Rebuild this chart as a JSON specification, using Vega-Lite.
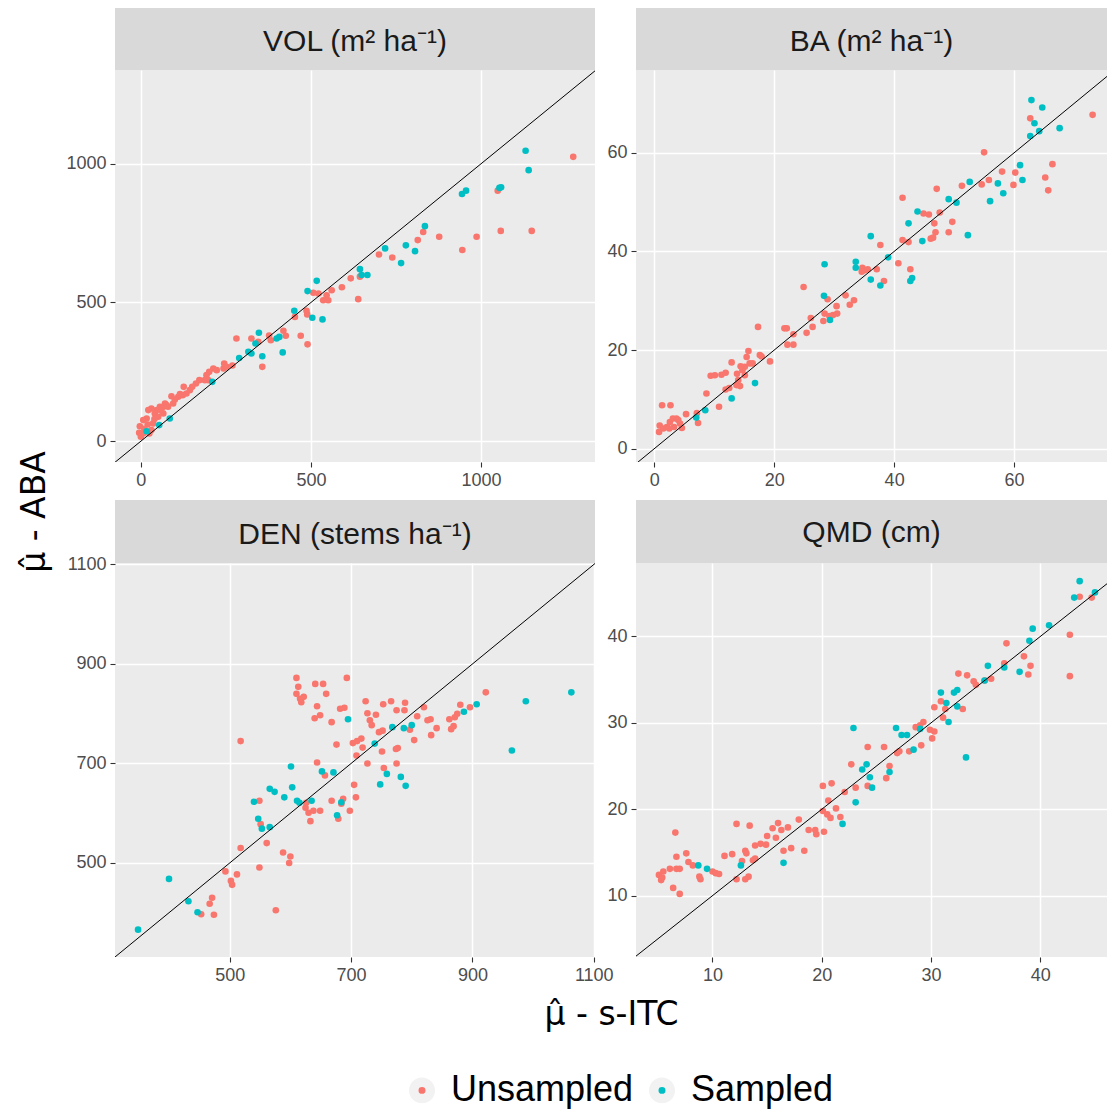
{
"$schema": "https://vega.github.io/schema/vega-lite/v6.json",
"padding": {"left": 18, "top": 8, "right": 0, "bottom": 0},
"background": "white",
"datasets": {
"pts": [
{"panel":"VOL","group":"Unsampled","x":617,"y":587},{"panel":"VOL","group":"Unsampled","x":591,"y":555},{"panel":"VOL","group":"Unsampled","x":561,"y":544},{"panel":"VOL","group":"Unsampled","x":546,"y":526},{"panel":"VOL","group":"Unsampled","x":536,"y":508},{"panel":"VOL","group":"Unsampled","x":551,"y":508},{"panel":"VOL","group":"Unsampled","x":522,"y":532},{"panel":"VOL","group":"Unsampled","x":507,"y":535},{"panel":"VOL","group":"Unsampled","x":639,"y":512},{"panel":"VOL","group":"Unsampled","x":489,"y":457},{"panel":"VOL","group":"Unsampled","x":487,"y":470},{"panel":"VOL","group":"Unsampled","x":453,"y":448},{"panel":"VOL","group":"Unsampled","x":470,"y":380},{"panel":"VOL","group":"Unsampled","x":490,"y":349},{"panel":"VOL","group":"Unsampled","x":419,"y":398},{"panel":"VOL","group":"Unsampled","x":426,"y":380},{"panel":"VOL","group":"Unsampled","x":382,"y":364},{"panel":"VOL","group":"Unsampled","x":377,"y":381},{"panel":"VOL","group":"Unsampled","x":357,"y":268},{"panel":"VOL","group":"Unsampled","x":281,"y":370},{"panel":"VOL","group":"Unsampled","x":325,"y":370},{"panel":"VOL","group":"Unsampled","x":345,"y":358},{"panel":"VOL","group":"Unsampled","x":269,"y":273},{"panel":"VOL","group":"Unsampled","x":245,"y":280},{"panel":"VOL","group":"Unsampled","x":243,"y":262},{"panel":"VOL","group":"Unsampled","x":252,"y":268},{"panel":"VOL","group":"Unsampled","x":213,"y":262},{"panel":"VOL","group":"Unsampled","x":201,"y":250},{"panel":"VOL","group":"Unsampled","x":193,"y":238},{"panel":"VOL","group":"Unsampled","x":198,"y":220},{"panel":"VOL","group":"Unsampled","x":188,"y":220},{"panel":"VOL","group":"Unsampled","x":172,"y":220},{"panel":"VOL","group":"Unsampled","x":162,"y":208},{"panel":"VOL","group":"Unsampled","x":151,"y":196},{"panel":"VOL","group":"Unsampled","x":144,"y":184},{"panel":"VOL","group":"Unsampled","x":126,"y":196},{"panel":"VOL","group":"Unsampled","x":123,"y":166},{"panel":"VOL","group":"Unsampled","x":134,"y":172},{"panel":"VOL","group":"Unsampled","x":90,"y":162},{"panel":"VOL","group":"Unsampled","x":71,"y":136},{"panel":"VOL","group":"Unsampled","x":66,"y":124},{"panel":"VOL","group":"Unsampled","x":56,"y":124},{"panel":"VOL","group":"Unsampled","x":46,"y":112},{"panel":"VOL","group":"Unsampled","x":41,"y":100},{"panel":"VOL","group":"Unsampled","x":31,"y":118},{"panel":"VOL","group":"Unsampled","x":22,"y":112},{"panel":"VOL","group":"Unsampled","x":17,"y":82},{"panel":"VOL","group":"Unsampled","x":7,"y":76},{"panel":"VOL","group":"Unsampled","x":-3,"y":54},{"panel":"VOL","group":"Unsampled","x":-5,"y":30},{"panel":"VOL","group":"Unsampled","x":0,"y":16},{"panel":"VOL","group":"Unsampled","x":7,"y":28},{"panel":"VOL","group":"Unsampled","x":25,"y":28},{"panel":"VOL","group":"Unsampled","x":31,"y":40},{"panel":"VOL","group":"Unsampled","x":36,"y":64},{"panel":"VOL","group":"Unsampled","x":51,"y":88},{"panel":"VOL","group":"Unsampled","x":66,"y":100},{"panel":"VOL","group":"Unsampled","x":80,"y":124},{"panel":"VOL","group":"Unsampled","x":95,"y":136},{"panel":"VOL","group":"Unsampled","x":110,"y":160},{"panel":"VOL","group":"Unsampled","x":223,"y":256},{"panel":"VOL","group":"Unsampled","x":60,"y":110},{"panel":"VOL","group":"Unsampled","x":75,"y":130},{"panel":"VOL","group":"Unsampled","x":100,"y":150},{"panel":"VOL","group":"Unsampled","x":115,"y":170},{"panel":"VOL","group":"Unsampled","x":20,"y":60},{"panel":"VOL","group":"Unsampled","x":10,"y":45},{"panel":"VOL","group":"Unsampled","x":40,"y":80},{"panel":"VOL","group":"Unsampled","x":1271,"y":1025},{"panel":"VOL","group":"Unsampled","x":1049,"y":903},{"panel":"VOL","group":"Unsampled","x":1058,"y":758},{"panel":"VOL","group":"Unsampled","x":1149,"y":758},{"panel":"VOL","group":"Unsampled","x":987,"y":737},{"panel":"VOL","group":"Unsampled","x":945,"y":689},{"panel":"VOL","group":"Unsampled","x":877,"y":737},{"panel":"VOL","group":"Unsampled","x":830,"y":754},{"panel":"VOL","group":"Unsampled","x":814,"y":725},{"panel":"VOL","group":"Unsampled","x":739,"y":662},{"panel":"VOL","group":"Unsampled","x":700,"y":673},{"panel":"VOL","group":"Unsampled","x":644,"y":593},
{"panel":"VOL","group":"Sampled","x":517,"y":578},{"panel":"VOL","group":"Sampled","x":490,"y":541},{"panel":"VOL","group":"Sampled","x":451,"y":470},{"panel":"VOL","group":"Sampled","x":504,"y":445},{"panel":"VOL","group":"Sampled","x":534,"y":439},{"panel":"VOL","group":"Sampled","x":347,"y":391},{"panel":"VOL","group":"Sampled","x":337,"y":352},{"panel":"VOL","group":"Sampled","x":357,"y":306},{"panel":"VOL","group":"Sampled","x":325,"y":316},{"panel":"VOL","group":"Sampled","x":316,"y":322},{"panel":"VOL","group":"Sampled","x":289,"y":300},{"panel":"VOL","group":"Sampled","x":399,"y":370},{"panel":"VOL","group":"Sampled","x":407,"y":376},{"panel":"VOL","group":"Sampled","x":417,"y":320},{"panel":"VOL","group":"Sampled","x":210,"y":214},{"panel":"VOL","group":"Sampled","x":85,"y":82},{"panel":"VOL","group":"Sampled","x":54,"y":58},{"panel":"VOL","group":"Sampled","x":17,"y":36},{"panel":"VOL","group":"Sampled","x":1131,"y":1047},{"panel":"VOL","group":"Sampled","x":1140,"y":977},{"panel":"VOL","group":"Sampled","x":1054,"y":913},{"panel":"VOL","group":"Sampled","x":1059,"y":915},{"panel":"VOL","group":"Sampled","x":944,"y":891},{"panel":"VOL","group":"Sampled","x":956,"y":903},{"panel":"VOL","group":"Sampled","x":835,"y":775},{"panel":"VOL","group":"Sampled","x":779,"y":706},{"panel":"VOL","group":"Sampled","x":806,"y":685},{"panel":"VOL","group":"Sampled","x":765,"y":642},{"panel":"VOL","group":"Sampled","x":718,"y":695},{"panel":"VOL","group":"Sampled","x":644,"y":620},{"panel":"VOL","group":"Sampled","x":649,"y":599},{"panel":"VOL","group":"Sampled","x":666,"y":599},
{"panel":"BA","group":"Unsampled","x":0.8,"y":3.4},{"panel":"BA","group":"Unsampled","x":0.9,"y":4.7},{"panel":"BA","group":"Unsampled","x":1.3,"y":8.8},{"panel":"BA","group":"Unsampled","x":2.7,"y":8.8},{"panel":"BA","group":"Unsampled","x":1.5,"y":4.1},{"panel":"BA","group":"Unsampled","x":2.1,"y":4.4},{"panel":"BA","group":"Unsampled","x":2.6,"y":5.4},{"panel":"BA","group":"Unsampled","x":3.1,"y":6.1},{"panel":"BA","group":"Unsampled","x":3.7,"y":6.1},{"panel":"BA","group":"Unsampled","x":4.3,"y":5.1},{"panel":"BA","group":"Unsampled","x":4.6,"y":4.2},{"panel":"BA","group":"Unsampled","x":4.0,"y":5.8},{"panel":"BA","group":"Unsampled","x":3.3,"y":4.4},{"panel":"BA","group":"Unsampled","x":2.5,"y":4.1},{"panel":"BA","group":"Unsampled","x":5.3,"y":7.0},{"panel":"BA","group":"Unsampled","x":7.3,"y":5.2},{"panel":"BA","group":"Unsampled","x":7.1,"y":7.2},{"panel":"BA","group":"Unsampled","x":8.7,"y":11.2},{"panel":"BA","group":"Unsampled","x":10.8,"y":8.5},{"panel":"BA","group":"Unsampled","x":11.9,"y":12.0},{"panel":"BA","group":"Unsampled","x":13.7,"y":12.9},{"panel":"BA","group":"Unsampled","x":14.3,"y":12.7},{"panel":"BA","group":"Unsampled","x":14.0,"y":13.9},{"panel":"BA","group":"Unsampled","x":13.8,"y":15.2},{"panel":"BA","group":"Unsampled","x":15.1,"y":14.9},{"panel":"BA","group":"Unsampled","x":15.9,"y":17.3},{"panel":"BA","group":"Unsampled","x":16.4,"y":17.3},{"panel":"BA","group":"Unsampled","x":15.4,"y":18.6},{"panel":"BA","group":"Unsampled","x":15.7,"y":19.8},{"panel":"BA","group":"Unsampled","x":17.3,"y":24.7},{"panel":"BA","group":"Unsampled","x":17.6,"y":19.0},{"panel":"BA","group":"Unsampled","x":17.9,"y":18.7},{"panel":"BA","group":"Unsampled","x":19.3,"y":17.7},{"panel":"BA","group":"Unsampled","x":12.9,"y":17.5},{"panel":"BA","group":"Unsampled","x":9.4,"y":14.8},{"panel":"BA","group":"Unsampled","x":10.1,"y":14.9},{"panel":"BA","group":"Unsampled","x":11.2,"y":15.0},{"panel":"BA","group":"Unsampled","x":11.9,"y":15.4},{"panel":"BA","group":"Unsampled","x":12.5,"y":12.3},{"panel":"BA","group":"Unsampled","x":14.7,"y":15.9},{"panel":"BA","group":"Unsampled","x":15.1,"y":16.6},{"panel":"BA","group":"Unsampled","x":14.4,"y":16.7},{"panel":"BA","group":"Unsampled","x":21.7,"y":24.4},{"panel":"BA","group":"Unsampled","x":22.1,"y":24.4},{"panel":"BA","group":"Unsampled","x":23.2,"y":23.2},{"panel":"BA","group":"Unsampled","x":22.2,"y":21.1},{"panel":"BA","group":"Unsampled","x":23.2,"y":21.1},{"panel":"BA","group":"Unsampled","x":25.4,"y":23.5},{"panel":"BA","group":"Unsampled","x":26.4,"y":24.7},{"panel":"BA","group":"Unsampled","x":26.1,"y":26.5},{"panel":"BA","group":"Unsampled","x":24.9,"y":32.8},{"panel":"BA","group":"Unsampled","x":28.2,"y":25.9},{"panel":"BA","group":"Unsampled","x":28.4,"y":27.4},{"panel":"BA","group":"Unsampled","x":29.2,"y":26.9},{"panel":"BA","group":"Unsampled","x":29.8,"y":27.1},{"panel":"BA","group":"Unsampled","x":30.5,"y":27.4},{"panel":"BA","group":"Unsampled","x":30.4,"y":28.9},{"panel":"BA","group":"Unsampled","x":28.9,"y":30.3},{"panel":"BA","group":"Unsampled","x":31.9,"y":31.1},{"panel":"BA","group":"Unsampled","x":32.6,"y":29.2},{"panel":"BA","group":"Unsampled","x":33.3,"y":30.1},{"panel":"BA","group":"Unsampled","x":34.7,"y":36.7},{"panel":"BA","group":"Unsampled","x":35.1,"y":36.2},{"panel":"BA","group":"Unsampled","x":35.6,"y":36.4},{"panel":"BA","group":"Unsampled","x":34.6,"y":35.9},{"panel":"BA","group":"Unsampled","x":37.1,"y":36.4},{"panel":"BA","group":"Unsampled","x":37.7,"y":41.3},{"panel":"BA","group":"Unsampled","x":73.1,"y":67.7},{"panel":"BA","group":"Unsampled","x":62.7,"y":67.0},{"panel":"BA","group":"Unsampled","x":55.0,"y":60.1},{"panel":"BA","group":"Unsampled","x":66.4,"y":57.7},{"panel":"BA","group":"Unsampled","x":65.2,"y":55.0},{"panel":"BA","group":"Unsampled","x":65.7,"y":52.4},{"panel":"BA","group":"Unsampled","x":60.2,"y":56.0},{"panel":"BA","group":"Unsampled","x":59.9,"y":53.5},{"panel":"BA","group":"Unsampled","x":58.0,"y":56.2},{"panel":"BA","group":"Unsampled","x":55.8,"y":54.5},{"panel":"BA","group":"Unsampled","x":54.6,"y":53.6},{"panel":"BA","group":"Unsampled","x":51.3,"y":53.3},{"panel":"BA","group":"Unsampled","x":47.1,"y":52.7},{"panel":"BA","group":"Unsampled","x":41.4,"y":50.9},{"panel":"BA","group":"Unsampled","x":44.9,"y":47.7},{"panel":"BA","group":"Unsampled","x":45.8,"y":47.5},{"panel":"BA","group":"Unsampled","x":47.6,"y":47.9},{"panel":"BA","group":"Unsampled","x":46.7,"y":45.7},{"panel":"BA","group":"Unsampled","x":49.7,"y":46.0},{"panel":"BA","group":"Unsampled","x":49.1,"y":43.9},{"panel":"BA","group":"Unsampled","x":46.9,"y":43.9},{"panel":"BA","group":"Unsampled","x":46.5,"y":42.8},{"panel":"BA","group":"Unsampled","x":46.1,"y":42.6},{"panel":"BA","group":"Unsampled","x":41.4,"y":42.3},{"panel":"BA","group":"Unsampled","x":42.4,"y":41.9},{"panel":"BA","group":"Unsampled","x":40.7,"y":37.6},{"panel":"BA","group":"Unsampled","x":42.7,"y":36.4},{"panel":"BA","group":"Unsampled","x":38.3,"y":34.0},
{"panel":"BA","group":"Sampled","x":7.0,"y":6.3},{"panel":"BA","group":"Sampled","x":8.5,"y":7.8},{"panel":"BA","group":"Sampled","x":12.9,"y":10.2},{"panel":"BA","group":"Sampled","x":16.8,"y":13.3},{"panel":"BA","group":"Sampled","x":28.4,"y":37.4},{"panel":"BA","group":"Sampled","x":28.3,"y":31.0},{"panel":"BA","group":"Sampled","x":29.3,"y":26.1},{"panel":"BA","group":"Sampled","x":33.6,"y":37.9},{"panel":"BA","group":"Sampled","x":33.6,"y":36.7},{"panel":"BA","group":"Sampled","x":36.1,"y":43.1},{"panel":"BA","group":"Sampled","x":36.1,"y":34.3},{"panel":"BA","group":"Sampled","x":37.7,"y":33.1},{"panel":"BA","group":"Sampled","x":62.9,"y":70.7},{"panel":"BA","group":"Sampled","x":64.7,"y":69.2},{"panel":"BA","group":"Sampled","x":63.4,"y":66.0},{"panel":"BA","group":"Sampled","x":62.7,"y":63.4},{"panel":"BA","group":"Sampled","x":64.2,"y":64.4},{"panel":"BA","group":"Sampled","x":67.6,"y":65.0},{"panel":"BA","group":"Sampled","x":61.0,"y":57.5},{"panel":"BA","group":"Sampled","x":61.4,"y":54.5},{"panel":"BA","group":"Sampled","x":57.3,"y":53.8},{"panel":"BA","group":"Sampled","x":58.2,"y":51.8},{"panel":"BA","group":"Sampled","x":56.0,"y":50.2},{"panel":"BA","group":"Sampled","x":52.6,"y":54.1},{"panel":"BA","group":"Sampled","x":49.1,"y":50.6},{"panel":"BA","group":"Sampled","x":50.4,"y":49.9},{"panel":"BA","group":"Sampled","x":52.3,"y":43.3},{"panel":"BA","group":"Sampled","x":43.9,"y":48.1},{"panel":"BA","group":"Sampled","x":42.4,"y":45.7},{"panel":"BA","group":"Sampled","x":44.7,"y":42.1},{"panel":"BA","group":"Sampled","x":39.0,"y":38.8},{"panel":"BA","group":"Sampled","x":42.7,"y":34.0},{"panel":"BA","group":"Sampled","x":43.0,"y":34.6},
{"panel":"DEN","group":"Unsampled","x":518,"y":745},{"panel":"DEN","group":"Unsampled","x":549,"y":625},{"panel":"DEN","group":"Unsampled","x":551,"y":578},{"panel":"DEN","group":"Unsampled","x":561,"y":540},{"panel":"DEN","group":"Unsampled","x":518,"y":530},{"panel":"DEN","group":"Unsampled","x":493,"y":483},{"panel":"DEN","group":"Unsampled","x":502,"y":464},{"panel":"DEN","group":"Unsampled","x":504,"y":456},{"panel":"DEN","group":"Unsampled","x":512,"y":477},{"panel":"DEN","group":"Unsampled","x":471,"y":430},{"panel":"DEN","group":"Unsampled","x":467,"y":418},{"panel":"DEN","group":"Unsampled","x":453,"y":397},{"panel":"DEN","group":"Unsampled","x":474,"y":396},{"panel":"DEN","group":"Unsampled","x":549,"y":491},{"panel":"DEN","group":"Unsampled","x":576,"y":405},{"panel":"DEN","group":"Unsampled","x":588,"y":521},{"panel":"DEN","group":"Unsampled","x":600,"y":513},{"panel":"DEN","group":"Unsampled","x":598,"y":500},{"panel":"DEN","group":"Unsampled","x":610,"y":872},{"panel":"DEN","group":"Unsampled","x":613,"y":854},{"panel":"DEN","group":"Unsampled","x":610,"y":840},{"panel":"DEN","group":"Unsampled","x":616,"y":830},{"panel":"DEN","group":"Unsampled","x":622,"y":834},{"panel":"DEN","group":"Unsampled","x":618,"y":823},{"panel":"DEN","group":"Unsampled","x":641,"y":860},{"panel":"DEN","group":"Unsampled","x":654,"y":860},{"panel":"DEN","group":"Unsampled","x":659,"y":840},{"panel":"DEN","group":"Unsampled","x":644,"y":815},{"panel":"DEN","group":"Unsampled","x":640,"y":791},{"panel":"DEN","group":"Unsampled","x":649,"y":797},{"panel":"DEN","group":"Unsampled","x":668,"y":783},{"panel":"DEN","group":"Unsampled","x":682,"y":810},{"panel":"DEN","group":"Unsampled","x":689,"y":812},{"panel":"DEN","group":"Unsampled","x":693,"y":872},{"panel":"DEN","group":"Unsampled","x":676,"y":738},{"panel":"DEN","group":"Unsampled","x":644,"y":702},{"panel":"DEN","group":"Unsampled","x":657,"y":676},{"panel":"DEN","group":"Unsampled","x":668,"y":625},{"panel":"DEN","group":"Unsampled","x":625,"y":611},{"panel":"DEN","group":"Unsampled","x":630,"y":601},{"panel":"DEN","group":"Unsampled","x":633,"y":584},{"panel":"DEN","group":"Unsampled","x":638,"y":605},{"panel":"DEN","group":"Unsampled","x":649,"y":605},{"panel":"DEN","group":"Unsampled","x":626,"y":621},{"panel":"DEN","group":"Unsampled","x":679,"y":589},{"panel":"DEN","group":"Unsampled","x":684,"y":619},{"panel":"DEN","group":"Unsampled","x":687,"y":629},{"panel":"DEN","group":"Unsampled","x":698,"y":605},{"panel":"DEN","group":"Unsampled","x":705,"y":657},{"panel":"DEN","group":"Unsampled","x":708,"y":632},{"panel":"DEN","group":"Unsampled","x":703,"y":741},{"panel":"DEN","group":"Unsampled","x":710,"y":745},{"panel":"DEN","group":"Unsampled","x":709,"y":716},{"panel":"DEN","group":"Unsampled","x":922,"y":843},{"panel":"DEN","group":"Unsampled","x":896,"y":813},{"panel":"DEN","group":"Unsampled","x":880,"y":818},{"panel":"DEN","group":"Unsampled","x":875,"y":800},{"panel":"DEN","group":"Unsampled","x":871,"y":793},{"panel":"DEN","group":"Unsampled","x":862,"y":789},{"panel":"DEN","group":"Unsampled","x":869,"y":775},{"panel":"DEN","group":"Unsampled","x":865,"y":769},{"panel":"DEN","group":"Unsampled","x":841,"y":771},{"panel":"DEN","group":"Unsampled","x":832,"y":757},{"panel":"DEN","group":"Unsampled","x":831,"y":789},{"panel":"DEN","group":"Unsampled","x":826,"y":787},{"panel":"DEN","group":"Unsampled","x":820,"y":813},{"panel":"DEN","group":"Unsampled","x":809,"y":795},{"panel":"DEN","group":"Unsampled","x":797,"y":768},{"panel":"DEN","group":"Unsampled","x":804,"y":747},{"panel":"DEN","group":"Unsampled","x":789,"y":822},{"panel":"DEN","group":"Unsampled","x":788,"y":807},{"panel":"DEN","group":"Unsampled","x":775,"y":807},{"panel":"DEN","group":"Unsampled","x":777,"y":731},{"panel":"DEN","group":"Unsampled","x":774,"y":729},{"panel":"DEN","group":"Unsampled","x":775,"y":700},{"panel":"DEN","group":"Unsampled","x":766,"y":825},{"panel":"DEN","group":"Unsampled","x":753,"y":819},{"panel":"DEN","group":"Unsampled","x":724,"y":825},{"panel":"DEN","group":"Unsampled","x":727,"y":801},{"panel":"DEN","group":"Unsampled","x":731,"y":787},{"panel":"DEN","group":"Unsampled","x":734,"y":777},{"panel":"DEN","group":"Unsampled","x":741,"y":798},{"panel":"DEN","group":"Unsampled","x":746,"y":763},{"panel":"DEN","group":"Unsampled","x":752,"y":766},{"panel":"DEN","group":"Unsampled","x":751,"y":724},{"panel":"DEN","group":"Unsampled","x":754,"y":691},{"panel":"DEN","group":"Unsampled","x":727,"y":700},{"panel":"DEN","group":"Unsampled","x":719,"y":732},{"panel":"DEN","group":"Unsampled","x":717,"y":750},
{"panel":"DEN","group":"Sampled","x":349,"y":366},{"panel":"DEN","group":"Sampled","x":400,"y":468},{"panel":"DEN","group":"Sampled","x":432,"y":423},{"panel":"DEN","group":"Sampled","x":447,"y":401},{"panel":"DEN","group":"Sampled","x":540,"y":623},{"panel":"DEN","group":"Sampled","x":547,"y":589},{"panel":"DEN","group":"Sampled","x":553,"y":569},{"panel":"DEN","group":"Sampled","x":566,"y":572},{"panel":"DEN","group":"Sampled","x":566,"y":649},{"panel":"DEN","group":"Sampled","x":574,"y":643},{"panel":"DEN","group":"Sampled","x":590,"y":632},{"panel":"DEN","group":"Sampled","x":603,"y":652},{"panel":"DEN","group":"Sampled","x":601,"y":694},{"panel":"DEN","group":"Sampled","x":611,"y":625},{"panel":"DEN","group":"Sampled","x":615,"y":621},{"panel":"DEN","group":"Sampled","x":635,"y":625},{"panel":"DEN","group":"Sampled","x":652,"y":684},{"panel":"DEN","group":"Sampled","x":671,"y":682},{"panel":"DEN","group":"Sampled","x":684,"y":622},{"panel":"DEN","group":"Sampled","x":677,"y":596},{"panel":"DEN","group":"Sampled","x":695,"y":789},{"panel":"DEN","group":"Sampled","x":1063,"y":843},{"panel":"DEN","group":"Sampled","x":988,"y":825},{"panel":"DEN","group":"Sampled","x":965,"y":726},{"panel":"DEN","group":"Sampled","x":907,"y":819},{"panel":"DEN","group":"Sampled","x":886,"y":804},{"panel":"DEN","group":"Sampled","x":800,"y":777},{"panel":"DEN","group":"Sampled","x":787,"y":771},{"panel":"DEN","group":"Sampled","x":768,"y":773},{"panel":"DEN","group":"Sampled","x":739,"y":740},{"panel":"DEN","group":"Sampled","x":759,"y":679},{"panel":"DEN","group":"Sampled","x":748,"y":658},{"panel":"DEN","group":"Sampled","x":782,"y":673},{"panel":"DEN","group":"Sampled","x":790,"y":655},
{"panel":"QMD","group":"Unsampled","x":5.1,"y":12.4},{"panel":"QMD","group":"Unsampled","x":5.4,"y":12.1},{"panel":"QMD","group":"Unsampled","x":5.5,"y":12.8},{"panel":"QMD","group":"Unsampled","x":5.3,"y":11.8},{"panel":"QMD","group":"Unsampled","x":6.1,"y":13.1},{"panel":"QMD","group":"Unsampled","x":6.7,"y":13.1},{"panel":"QMD","group":"Unsampled","x":7.0,"y":13.1},{"panel":"QMD","group":"Unsampled","x":6.6,"y":17.3},{"panel":"QMD","group":"Unsampled","x":6.7,"y":14.5},{"panel":"QMD","group":"Unsampled","x":7.6,"y":14.9},{"panel":"QMD","group":"Unsampled","x":7.8,"y":13.9},{"panel":"QMD","group":"Unsampled","x":8.2,"y":13.5},{"panel":"QMD","group":"Unsampled","x":6.4,"y":10.9},{"panel":"QMD","group":"Unsampled","x":7.0,"y":10.2},{"panel":"QMD","group":"Unsampled","x":8.8,"y":12.2},{"panel":"QMD","group":"Unsampled","x":8.9,"y":11.9},{"panel":"QMD","group":"Unsampled","x":10.0,"y":12.8},{"panel":"QMD","group":"Unsampled","x":10.3,"y":12.6},{"panel":"QMD","group":"Unsampled","x":10.6,"y":12.5},{"panel":"QMD","group":"Unsampled","x":11.1,"y":14.6},{"panel":"QMD","group":"Unsampled","x":11.8,"y":14.8},{"panel":"QMD","group":"Unsampled","x":12.2,"y":18.3},{"panel":"QMD","group":"Unsampled","x":12.2,"y":11.9},{"panel":"QMD","group":"Unsampled","x":12.7,"y":14.0},{"panel":"QMD","group":"Unsampled","x":13.0,"y":15.2},{"panel":"QMD","group":"Unsampled","x":13.1,"y":14.9},{"panel":"QMD","group":"Unsampled","x":13.0,"y":11.9},{"panel":"QMD","group":"Unsampled","x":13.3,"y":12.2},{"panel":"QMD","group":"Unsampled","x":13.4,"y":18.1},{"panel":"QMD","group":"Unsampled","x":13.7,"y":14.1},{"panel":"QMD","group":"Unsampled","x":13.9,"y":14.3},{"panel":"QMD","group":"Unsampled","x":13.9,"y":15.8},{"panel":"QMD","group":"Unsampled","x":14.4,"y":16.0},{"panel":"QMD","group":"Unsampled","x":14.9,"y":15.9},{"panel":"QMD","group":"Unsampled","x":15.0,"y":16.9},{"panel":"QMD","group":"Unsampled","x":15.5,"y":17.8},{"panel":"QMD","group":"Unsampled","x":15.8,"y":16.7},{"panel":"QMD","group":"Unsampled","x":16.0,"y":18.4},{"panel":"QMD","group":"Unsampled","x":16.3,"y":17.6},{"panel":"QMD","group":"Unsampled","x":16.9,"y":17.9},{"panel":"QMD","group":"Unsampled","x":16.5,"y":15.2},{"panel":"QMD","group":"Unsampled","x":17.2,"y":15.5},{"panel":"QMD","group":"Unsampled","x":17.9,"y":18.8},{"panel":"QMD","group":"Unsampled","x":18.4,"y":15.2},{"panel":"QMD","group":"Unsampled","x":18.8,"y":17.6},{"panel":"QMD","group":"Unsampled","x":19.4,"y":17.6},{"panel":"QMD","group":"Unsampled","x":19.5,"y":17.1},{"panel":"QMD","group":"Unsampled","x":20.2,"y":17.4},{"panel":"QMD","group":"Unsampled","x":20.1,"y":19.8},{"panel":"QMD","group":"Unsampled","x":20.5,"y":19.4},{"panel":"QMD","group":"Unsampled","x":20.8,"y":19.0},{"panel":"QMD","group":"Unsampled","x":20.6,"y":21.0},{"panel":"QMD","group":"Unsampled","x":20.1,"y":22.7},{"panel":"QMD","group":"Unsampled","x":20.9,"y":23.0},{"panel":"QMD","group":"Unsampled","x":21.3,"y":20.1},{"panel":"QMD","group":"Unsampled","x":21.7,"y":19.1},{"panel":"QMD","group":"Unsampled","x":22.1,"y":22.0},{"panel":"QMD","group":"Unsampled","x":22.7,"y":25.2},{"panel":"QMD","group":"Unsampled","x":23.1,"y":22.5},{"panel":"QMD","group":"Unsampled","x":24.2,"y":27.2},{"panel":"QMD","group":"Unsampled","x":24.2,"y":22.7},{"panel":"QMD","group":"Unsampled","x":43.6,"y":44.6},{"panel":"QMD","group":"Unsampled","x":44.7,"y":44.5},{"panel":"QMD","group":"Unsampled","x":42.7,"y":40.2},{"panel":"QMD","group":"Unsampled","x":42.7,"y":35.4},{"panel":"QMD","group":"Unsampled","x":36.9,"y":39.2},{"panel":"QMD","group":"Unsampled","x":38.5,"y":37.7},{"panel":"QMD","group":"Unsampled","x":39.1,"y":36.6},{"panel":"QMD","group":"Unsampled","x":38.9,"y":35.6},{"panel":"QMD","group":"Unsampled","x":36.7,"y":36.9},{"panel":"QMD","group":"Unsampled","x":35.5,"y":35.1},{"panel":"QMD","group":"Unsampled","x":34.9,"y":34.9},{"panel":"QMD","group":"Unsampled","x":34.1,"y":34.4},{"panel":"QMD","group":"Unsampled","x":33.9,"y":34.8},{"panel":"QMD","group":"Unsampled","x":33.3,"y":35.5},{"panel":"QMD","group":"Unsampled","x":32.5,"y":35.7},{"panel":"QMD","group":"Unsampled","x":30.9,"y":32.5},{"panel":"QMD","group":"Unsampled","x":30.3,"y":31.8},{"panel":"QMD","group":"Unsampled","x":31.3,"y":31.6},{"panel":"QMD","group":"Unsampled","x":31.1,"y":30.6},{"panel":"QMD","group":"Unsampled","x":32.9,"y":31.6},{"panel":"QMD","group":"Unsampled","x":28.6,"y":29.5},{"panel":"QMD","group":"Unsampled","x":29.0,"y":29.7},{"panel":"QMD","group":"Unsampled","x":29.3,"y":30.1},{"panel":"QMD","group":"Unsampled","x":29.9,"y":29.2},{"panel":"QMD","group":"Unsampled","x":30.3,"y":29.0},{"panel":"QMD","group":"Unsampled","x":30.1,"y":28.2},{"panel":"QMD","group":"Unsampled","x":29.1,"y":27.4},{"panel":"QMD","group":"Unsampled","x":28.0,"y":26.7},{"panel":"QMD","group":"Unsampled","x":26.9,"y":26.5},{"panel":"QMD","group":"Unsampled","x":27.1,"y":26.7},{"panel":"QMD","group":"Unsampled","x":25.7,"y":27.2},{"panel":"QMD","group":"Unsampled","x":26.2,"y":25.0},{"panel":"QMD","group":"Unsampled","x":25.9,"y":23.6},
{"panel":"QMD","group":"Sampled","x":8.7,"y":13.5},{"panel":"QMD","group":"Sampled","x":9.5,"y":13.1},{"panel":"QMD","group":"Sampled","x":12.6,"y":13.5},{"panel":"QMD","group":"Sampled","x":16.5,"y":13.8},{"panel":"QMD","group":"Sampled","x":21.9,"y":18.3},{"panel":"QMD","group":"Sampled","x":23.1,"y":20.8},{"panel":"QMD","group":"Sampled","x":22.9,"y":29.4},{"panel":"QMD","group":"Sampled","x":23.7,"y":24.6},{"panel":"QMD","group":"Sampled","x":24.1,"y":25.2},{"panel":"QMD","group":"Sampled","x":24.4,"y":23.7},{"panel":"QMD","group":"Sampled","x":24.6,"y":22.5},{"panel":"QMD","group":"Sampled","x":43.6,"y":46.4},{"panel":"QMD","group":"Sampled","x":43.1,"y":44.5},{"panel":"QMD","group":"Sampled","x":45.0,"y":45.1},{"panel":"QMD","group":"Sampled","x":40.8,"y":41.3},{"panel":"QMD","group":"Sampled","x":39.3,"y":40.9},{"panel":"QMD","group":"Sampled","x":39.0,"y":39.5},{"panel":"QMD","group":"Sampled","x":38.1,"y":35.9},{"panel":"QMD","group":"Sampled","x":36.7,"y":36.4},{"panel":"QMD","group":"Sampled","x":35.2,"y":36.6},{"panel":"QMD","group":"Sampled","x":34.9,"y":34.9},{"panel":"QMD","group":"Sampled","x":30.9,"y":33.5},{"panel":"QMD","group":"Sampled","x":31.4,"y":32.3},{"panel":"QMD","group":"Sampled","x":32.1,"y":33.5},{"panel":"QMD","group":"Sampled","x":32.4,"y":33.8},{"panel":"QMD","group":"Sampled","x":32.4,"y":31.9},{"panel":"QMD","group":"Sampled","x":31.6,"y":30.1},{"panel":"QMD","group":"Sampled","x":33.2,"y":26.0},{"panel":"QMD","group":"Sampled","x":29.0,"y":29.3},{"panel":"QMD","group":"Sampled","x":26.8,"y":29.4},{"panel":"QMD","group":"Sampled","x":27.3,"y":28.6},{"panel":"QMD","group":"Sampled","x":27.8,"y":28.6},{"panel":"QMD","group":"Sampled","x":28.4,"y":26.9},{"panel":"QMD","group":"Sampled","x":26.2,"y":24.3}
],
"ref": [
{"panel":"VOL","x":-300,"y":-300,"x2":1600,"y2":1600},
{"panel":"BA","x":-20,"y":-20,"x2":100,"y2":100},
{"panel":"DEN","x":200,"y":200,"x2":1300,"y2":1300},
{"panel":"QMD","x":0,"y":0,"x2":60,"y2":60}
],
"blank": [{"label": ""}]
},
"config": {
"font": "Liberation Sans",
"numberFormat": "d",
"view": {"fill": "#EBEBEB", "stroke": null},
"axis": {"domain": false, "grid": true, "gridColor": "#FFFFFF", "gridWidth": 1.5, "tickColor": "#333333", "tickSize": 5, "tickWidth": 1.1, "labelColor": "#4D4D4D", "labelFontSize": 18, "labelFont": "Liberation Sans", "labelPadding": 4, "labelFlush": false, "labelOverlap": false, "title": null},
"title": {"fontSize": 33, "font": "DejaVu Sans", "fontWeight": "normal", "color": "#000000", "anchor": "middle"},
"legend": {"title": null, "orient": "none", "legendX": 289, "legendY": 1064, "direction": "horizontal", "labelFontSize": 36, "labelFont": "Liberation Sans", "labelColor": "#000000", "labelLimit": 500, "symbolType": "circle", "symbolSize": 272, "symbolStrokeColor": "#F2F2F2", "symbolStrokeWidth": 9.5, "columnPadding": 0, "labelOffset": 11}
},
"vconcat": [
{
"title": {"text": "\u03bc\u0302 - ABA", "orient": "left", "offset": 14, "anchor": "middle", "dx": 8},
"vconcat": [
{
"title": {"text": "\u03bc\u0302 - s-ITC", "orient": "bottom", "offset": 15, "anchor": "middle", "dx": 25},
"columns": 2,
"bounds": "flush",
"spacing": {"row": 0, "column": 41},
"concat": [
 {"width": 480, "height": 62, "view": {"fill": "#D9D9D9", "stroke": null}, "data": {"values": [{"label": "VOL (m\u00b2 ha\u207b\u00b9)"}]}, "mark": {"type": "text", "fontSize": 30, "font": "Liberation Sans", "color": "#1A1A1A", "dy": 3}, "encoding": {"text": {"field": "label"}}},
 {"width": 471, "height": 62, "view": {"fill": "#D9D9D9", "stroke": null}, "data": {"values": [{"label": "BA (m\u00b2 ha\u207b\u00b9)"}]}, "mark": {"type": "text", "fontSize": 30, "font": "Liberation Sans", "color": "#1A1A1A", "dy": 3}, "encoding": {"text": {"field": "label"}}},
 {"width": 480, "height": 392, "resolve": {"axis": {"x": "independent", "y": "independent"}}, "layer": [
  {"data": {"name": "pts"}, "transform": [{"filter": "datum.panel === 'VOL'"}], "mark": {"type": "circle", "size": 44, "opacity": 1},
   "encoding": {"x": {"field": "x", "type": "quantitative", "scale": {"domain": [-76, 1335], "nice": false, "zero": false}, "axis": {"values": [0, 500, 1000]}},
    "y": {"field": "y", "type": "quantitative", "scale": {"domain": [-75, 1338], "nice": false, "zero": false}, "axis": {"values": [0, 500, 1000]}},
    "color": {"field": "group", "type": "nominal", "scale": {"domain": ["Unsampled", "Sampled"], "range": ["#F8766D", "#00BFC4"]}, "legend": {"encode": {"symbols": {"update": {"stroke": {"value": "#F2F2F2"}, "strokeWidth": {"value": 9.5}}}}}}}},
  {"data": {"name": "ref"}, "transform": [{"filter": "datum.panel === 'VOL'"}], "mark": {"type": "rule", "color": "#000000", "strokeWidth": 1, "clip": true},
   "encoding": {"x": {"field": "x", "type": "quantitative", "scale": {"domain": [-76, 1335], "nice": false, "zero": false}, "axis": {"values": [250, 750, 1250], "labels": false, "ticks": false, "gridWidth": 0.8, "orient": "top"}},
    "y": {"field": "y", "type": "quantitative", "scale": {"domain": [-75, 1338], "nice": false, "zero": false}, "axis": {"values": [250, 750, 1250], "labels": false, "ticks": false, "gridWidth": 0.8, "orient": "right"}},
    "x2": {"field": "x2"}, "y2": {"field": "y2"}}}
 ]},
 {"width": 471, "height": 392, "resolve": {"axis": {"x": "independent", "y": "independent"}}, "layer": [
  {"data": {"name": "pts"}, "transform": [{"filter": "datum.panel === 'BA'"}], "mark": {"type": "circle", "size": 44, "opacity": 1},
   "encoding": {"x": {"field": "x", "type": "quantitative", "scale": {"domain": [-3.05, 75.5], "nice": false, "zero": false}, "axis": {"values": [0, 20, 40, 60]}},
    "y": {"field": "y", "type": "quantitative", "scale": {"domain": [-2.7, 76.8], "nice": false, "zero": false}, "axis": {"values": [0, 20, 40, 60]}},
    "color": {"field": "group", "type": "nominal", "scale": {"domain": ["Unsampled", "Sampled"], "range": ["#F8766D", "#00BFC4"]}, "legend": {"encode": {"symbols": {"update": {"stroke": {"value": "#F2F2F2"}, "strokeWidth": {"value": 9.5}}}}}}}},
  {"data": {"name": "ref"}, "transform": [{"filter": "datum.panel === 'BA'"}], "mark": {"type": "rule", "color": "#000000", "strokeWidth": 1, "clip": true},
   "encoding": {"x": {"field": "x", "type": "quantitative", "scale": {"domain": [-3.05, 75.5], "nice": false, "zero": false}, "axis": {"values": [10, 30, 50, 70], "labels": false, "ticks": false, "gridWidth": 0.8, "orient": "top"}},
    "y": {"field": "y", "type": "quantitative", "scale": {"domain": [-2.7, 76.8], "nice": false, "zero": false}, "axis": {"values": [10, 30, 50, 70], "labels": false, "ticks": false, "gridWidth": 0.8, "orient": "right"}},
    "x2": {"field": "x2"}, "y2": {"field": "y2"}}}
 ]},
 {"width": 480, "height": 38, "view": {"fill": "transparent", "stroke": null}, "data": {"name": "blank"}, "mark": {"type": "text"}, "encoding": {"text": {"field": "label"}}},
 {"width": 471, "height": 38, "view": {"fill": "transparent", "stroke": null}, "data": {"name": "blank"}, "mark": {"type": "text"}, "encoding": {"text": {"field": "label"}}},
 {"width": 480, "height": 63, "view": {"fill": "#D9D9D9", "stroke": null}, "data": {"values": [{"label": "DEN (stems ha\u207b\u00b9)"}]}, "mark": {"type": "text", "fontSize": 30, "font": "Liberation Sans", "color": "#1A1A1A", "dy": 3}, "encoding": {"text": {"field": "label"}}},
 {"width": 471, "height": 63, "view": {"fill": "#D9D9D9", "stroke": null}, "data": {"values": [{"label": "QMD (cm)"}]}, "mark": {"type": "text", "fontSize": 30, "font": "Liberation Sans", "color": "#1A1A1A", "dy": 1}, "encoding": {"text": {"field": "label"}}},
 {"width": 480, "height": 394, "resolve": {"axis": {"x": "independent", "y": "independent"}}, "layer": [
  {"data": {"name": "pts"}, "transform": [{"filter": "datum.panel === 'DEN'"}], "mark": {"type": "circle", "size": 44, "opacity": 1},
   "encoding": {"x": {"field": "x", "type": "quantitative", "scale": {"domain": [311, 1102], "nice": false, "zero": false}, "axis": {"values": [500, 700, 900, 1100]}},
    "y": {"field": "y", "type": "quantitative", "scale": {"domain": [311, 1103], "nice": false, "zero": false}, "axis": {"values": [500, 700, 900, 1100]}},
    "color": {"field": "group", "type": "nominal", "scale": {"domain": ["Unsampled", "Sampled"], "range": ["#F8766D", "#00BFC4"]}, "legend": {"encode": {"symbols": {"update": {"stroke": {"value": "#F2F2F2"}, "strokeWidth": {"value": 9.5}}}}}}}},
  {"data": {"name": "ref"}, "transform": [{"filter": "datum.panel === 'DEN'"}], "mark": {"type": "rule", "color": "#000000", "strokeWidth": 1, "clip": true},
   "encoding": {"x": {"field": "x", "type": "quantitative", "scale": {"domain": [311, 1102], "nice": false, "zero": false}, "axis": {"values": [400, 600, 800, 1000], "labels": false, "ticks": false, "gridWidth": 0.8, "orient": "top"}},
    "y": {"field": "y", "type": "quantitative", "scale": {"domain": [311, 1103], "nice": false, "zero": false}, "axis": {"values": [400, 600, 800, 1000], "labels": false, "ticks": false, "gridWidth": 0.8, "orient": "right"}},
    "x2": {"field": "x2"}, "y2": {"field": "y2"}}}
 ]},
 {"width": 471, "height": 394, "resolve": {"axis": {"x": "independent", "y": "independent"}}, "layer": [
  {"data": {"name": "pts"}, "transform": [{"filter": "datum.panel === 'QMD'"}], "mark": {"type": "circle", "size": 44, "opacity": 1},
   "encoding": {"x": {"field": "x", "type": "quantitative", "scale": {"domain": [3.0, 46.1], "nice": false, "zero": false}, "axis": {"values": [10, 20, 30, 40]}},
    "y": {"field": "y", "type": "quantitative", "scale": {"domain": [2.9, 48.5], "nice": false, "zero": false}, "axis": {"values": [10, 20, 30, 40]}},
    "color": {"field": "group", "type": "nominal", "scale": {"domain": ["Unsampled", "Sampled"], "range": ["#F8766D", "#00BFC4"]}, "legend": {"encode": {"symbols": {"update": {"stroke": {"value": "#F2F2F2"}, "strokeWidth": {"value": 9.5}}}}}}}},
  {"data": {"name": "ref"}, "transform": [{"filter": "datum.panel === 'QMD'"}], "mark": {"type": "rule", "color": "#000000", "strokeWidth": 1, "clip": true},
   "encoding": {"x": {"field": "x", "type": "quantitative", "scale": {"domain": [3.0, 46.1], "nice": false, "zero": false}, "axis": {"values": [5, 15, 25, 35, 45], "labels": false, "ticks": false, "gridWidth": 0.8, "orient": "top"}},
    "y": {"field": "y", "type": "quantitative", "scale": {"domain": [2.9, 48.5], "nice": false, "zero": false}, "axis": {"values": [5, 15, 25, 35, 45], "labels": false, "ticks": false, "gridWidth": 0.8, "orient": "right"}},
    "x2": {"field": "x2"}, "y2": {"field": "y2"}}}
 ]}
]
}
]
}
]
}
